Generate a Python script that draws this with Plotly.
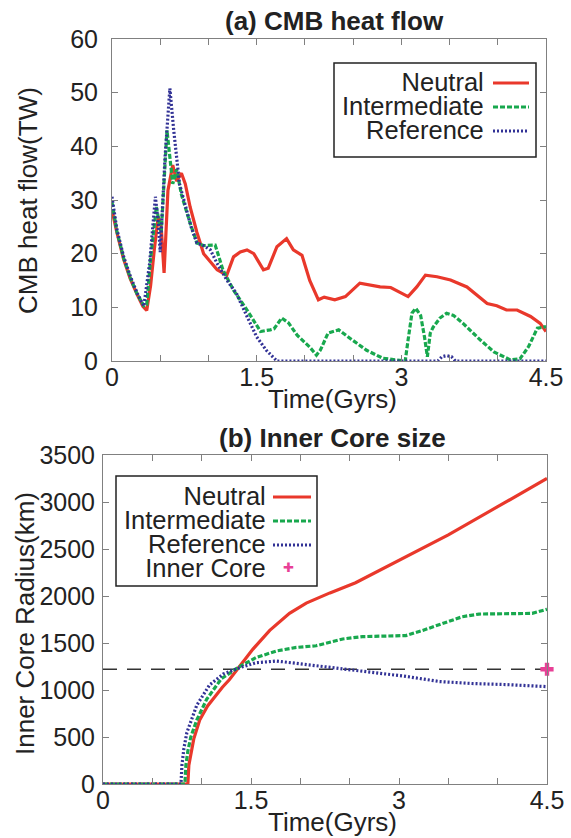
import plotly.graph_objects as go

W, H = 571, 838

# ---------------- data: (a) CMB heat flow (TW) ----------------
t_neutral_a = [0, 0.05, 0.12, 0.19, 0.26, 0.32, 0.36, 0.40, 0.44, 0.48, 0.51, 0.54, 0.58, 0.63,
               0.67, 0.72, 0.76, 0.81, 0.88, 0.95, 1.02, 1.09, 1.19, 1.26, 1.33, 1.40, 1.47, 1.57,
               1.62, 1.71, 1.81, 1.88, 1.97, 2.05, 2.14, 2.20, 2.31, 2.42, 2.57, 2.78, 2.89, 3.07,
               3.16, 3.25, 3.37, 3.51, 3.68, 3.89, 3.99, 4.09, 4.20, 4.34, 4.44, 4.50]
q_neutral = [28.1, 24.0, 19.0, 15.3, 12.4, 10.2, 9.4, 14.0, 21.0, 26.9, 25.0, 16.4, 31.8, 36.5,
             33.5, 35.0, 33.0, 28.7, 24.0, 20.0, 18.5, 17.0, 16.0, 19.4, 20.3, 20.7, 20.0, 17.0,
             17.3, 21.3, 22.8, 20.7, 19.7, 15.0, 11.4, 11.9, 11.4, 12.0, 14.5, 13.8, 13.7, 12.0,
             13.8, 16.0, 15.7, 15.1, 13.8, 10.7, 10.3, 9.5, 9.5, 8.3, 7.0, 5.5]

t_inter_a = [0, 0.05, 0.12, 0.19, 0.26, 0.33, 0.36, 0.40, 0.46, 0.51, 0.57, 0.63, 0.67, 0.72,
             0.81, 0.88, 0.95, 1.02, 1.07, 1.15, 1.26, 1.40, 1.54, 1.64, 1.68, 1.76, 1.83, 1.92,
             2.05, 2.12, 2.16, 2.24, 2.35, 2.47, 2.64, 2.81, 3.04, 3.07, 3.11, 3.15, 3.20, 3.24,
             3.27, 3.30, 3.33, 3.40, 3.47, 3.54, 3.64, 3.82, 3.96, 4.13, 4.23, 4.32, 4.41, 4.50]
q_inter = [29.6, 24.2, 19.2, 15.5, 12.5, 10.3, 10.5, 19.0, 28.7, 23.8, 43.0, 33.0, 35.7, 31.0,
           25.7, 22.0, 21.5, 21.5, 21.6, 17.0, 13.2, 9.5, 5.5, 5.8, 6.0, 8.0, 7.1, 4.8,
           2.6, 1.1, 2.0, 5.2, 5.8, 4.2, 2.0, 0.5, 0.0, 3.9, 8.9, 9.8, 8.5, 4.5,
           0.8, 5.2, 6.3, 8.0, 8.9, 8.5, 7.0, 3.9, 1.7, 0.2, 0.4, 2.7, 6.1, 6.4]

t_ref_a = [0, 0.05, 0.12, 0.19, 0.26, 0.33, 0.39, 0.45, 0.48, 0.50, 0.55, 0.60, 0.64, 0.70,
           0.76, 0.82, 0.88, 0.95, 1.02, 1.09, 1.19, 1.29, 1.40, 1.50, 1.60, 1.71, 3.38, 3.42,
           3.47, 3.52, 3.56, 4.50]
q_ref = [30.6, 24.6, 19.5, 15.8, 12.7, 10.2, 18.2, 30.6, 25.7, 20.3, 38.0, 50.8, 43.0, 33.0,
         29.0, 25.0, 22.0, 21.5, 20.7, 18.2, 15.1, 12.6, 8.3, 4.5, 2.0, 0.0, 0.0, 0.8,
         1.0, 0.8, 0.0, 0.0]

# ---------------- data: (b) Inner core radius (km) ----------------
t_neutral_b = [0, 0.86, 0.87, 0.89, 0.92, 0.98, 1.06, 1.12, 1.21, 1.28, 1.40, 1.52, 1.69, 1.89,
               2.06, 2.30, 2.56, 3.00, 3.50, 4.00, 4.50]
r_neutral = [0, 0, 200, 330, 480, 680, 830, 910, 1030, 1109, 1272, 1435, 1634, 1815,
             1924, 2033, 2141, 2380, 2650, 2950, 3250]

t_inter_b = [0, 0.83, 0.84, 0.86, 0.89, 0.95, 1.05, 1.20, 1.37, 1.55, 1.76, 1.96, 2.16, 2.43,
             2.63, 3.07, 3.24, 3.44, 3.64, 3.81, 4.08, 4.35, 4.50]
r_inter = [0, 0, 200, 350, 500, 680, 900, 1120, 1240, 1344, 1416, 1453, 1471, 1543,
           1568, 1579, 1634, 1707, 1779, 1808, 1808, 1815, 1859]

t_ref_b = [0, 0.79, 0.80, 0.82, 0.85, 0.90, 0.95, 1.08, 1.22, 1.39, 1.55, 1.76, 2.06, 2.56,
           3.07, 3.41, 3.74, 4.08, 4.50]
r_ref = [0, 0, 200, 380, 547, 700, 837, 1054, 1171, 1239, 1290, 1308, 1272, 1207,
         1145, 1090, 1069, 1058, 1036]

inner_core_now = 1221
t_now = 4.5
t_span = [0, 4.5]

series_names = ["Neutral", "Intermediate", "Reference"]
inner_core_name = "Inner Core"
x_tickvals = [0, 0.5, 1, 1.5, 2, 2.5, 3, 3.5, 4, 4.5]
x_ticktext = ["0", "", "", "1.5", "", "", "3", "", "", "4.5"]
ya_ticks = [0, 10, 20, 30, 40, 50, 60]
yb_ticks = [0, 500, 1000, 1500, 2000, 2500, 3000, 3500]

# ---------------- style ----------------
RED = 'rgb(233,56,43)'
GREEN = 'rgb(24,168,78)'
BLUE = 'rgb(50,50,150)'
PINK = 'rgb(232,64,150)'
AXC = '#808080'
TXT = '#222222'
FONT = 'Liberation Sans, Arial, Helvetica, sans-serif'

def fx(p):
    return p / W

def fy(p):
    return 1 - p / H

styles = [dict(color=RED, width=3.2),
          dict(color=GREEN, width=3.2, dash='5px,2px'),
          dict(color=BLUE, width=3.2, dash='2px,2px')]

fig = go.Figure()
for (tx, vy), st in zip([(t_neutral_a, q_neutral), (t_inter_a, q_inter), (t_ref_a, q_ref)], styles):
    fig.add_trace(go.Scatter(x=tx, y=vy, mode='lines', line=st, xaxis='x', yaxis='y',
                             showlegend=False, hoverinfo='skip'))

fig.add_trace(go.Scatter(x=t_span, y=[inner_core_now, inner_core_now], mode='lines',
                         line=dict(color='#333333', width=1.5, dash='14px,10px'),
                         xaxis='x2', yaxis='y2', showlegend=False, hoverinfo='skip'))
for (tx, vy), st in zip([(t_neutral_b, r_neutral), (t_inter_b, r_inter), (t_ref_b, r_ref)], styles):
    fig.add_trace(go.Scatter(x=tx, y=vy, mode='lines', line=st, xaxis='x2', yaxis='y2',
                             showlegend=False, hoverinfo='skip'))
fig.add_trace(go.Scatter(x=[t_now], y=[inner_core_now], mode='markers',
                         marker=dict(symbol='cross', size=11, color=PINK, line=dict(width=0)),
                         xaxis='x2', yaxis='y2', cliponaxis=False, showlegend=False, hoverinfo='skip'))

tickfont = dict(family=FONT, size=25, color=TXT)

def xax(dom, anchor):
    return dict(domain=dom, anchor=anchor, range=[0, 4.5], tickvals=x_tickvals, ticktext=x_ticktext,
                ticks='inside', ticklen=6, tickcolor=AXC, showline=True, linecolor=AXC, linewidth=1,
                mirror='ticks', showgrid=False, zeroline=False, tickfont=tickfont,
                ticklabelstandoff=-6, automargin=False)

def yax(dom, anchor, rng, ticks, standoff):
    return dict(domain=dom, anchor=anchor, range=rng, tickvals=ticks,
                ticks='inside', ticklen=6, tickcolor=AXC, showline=True, linecolor=AXC, linewidth=1,
                mirror='ticks', showgrid=False, zeroline=False, tickfont=tickfont,
                ticklabelstandoff=standoff, automargin=False)

fig.update_layout(
    width=W, height=H, autosize=False,
    margin=dict(l=0, r=0, t=0, b=0),
    paper_bgcolor='white', plot_bgcolor='white',
    font=dict(family=FONT, color=TXT),
    xaxis=xax([fx(112), fx(546)], 'y'),
    yaxis=yax([fy(361), fy(39)], 'x', [0, 60], ya_ticks, 8),
    xaxis2=xax([fx(103), fx(547)], 'y2'),
    yaxis2=yax([fy(784), fy(455)], 'x2', [0, 3500], yb_ticks, 2),
)

ann = []
shapes = []
def text(s, x, y, size, **kw):
    d = dict(text=s, x=fx(x), y=fy(y), xref='paper', yref='paper', showarrow=False,
             xanchor='center', yanchor='middle', font=dict(family=FONT, size=size, color=TXT))
    d.update(kw)
    ann.append(d)

text('<b>(a) CMB heat flow</b>', 334, 21, 26)
text('<b>(b) Inner Core size</b>', 332, 438, 26)
text('Time(Gyrs)', 332, 399, 26)
text('Time(Gyrs)', 332, 822, 26)
text('CMB heat flow(TW)', 28, 201, 26, textangle=-90)
text('Inner Core Radius(km)', 25, 624, 26, textangle=-90)

def legend_block(names, x_right, y_center):
    # one right-aligned multi-line text; small base font sets the tight row pitch (~24px)
    body = '<br>'.join('<span style="font-size:25.5px">%s</span>' % n for n in names)
    ann.append(dict(text=body, x=fx(x_right), y=fy(y_center), xref='paper', yref='paper',
                    showarrow=False, xanchor='right', yanchor='middle', align='right',
                    font=dict(family=FONT, size=18.4, color=TXT)))

# legend (a)
shapes.append(dict(type='rect', xref='paper', yref='paper', x0=fx(334), x1=fx(536), y0=fy(63), y1=fy(157),
                   line=dict(color='#222', width=1.5), fillcolor='white', layer='above'))
legend_block(series_names, 486, 106)
for yc, st in zip([82, 106, 130], styles):
    shapes.append(dict(type='line', xref='paper', yref='paper', x0=fx(493), x1=fx(529), y0=fy(yc + 1),
                       y1=fy(yc + 1), line=st, layer='above'))
# legend (b)
shapes.append(dict(type='rect', xref='paper', yref='paper', x0=fx(116), x1=fx(317), y0=fy(476), y1=fy(586),
                   line=dict(color='#222', width=1.5), fillcolor='white', layer='above'))
legend_block(series_names + [inner_core_name], 268, 531.5)
for yc, st in zip([496, 520, 544], styles):
    shapes.append(dict(type='line', xref='paper', yref='paper', x0=fx(273), x1=fx(311), y0=fy(yc + 1),
                       y1=fy(yc + 1), line=st, layer='above'))
ann.append(dict(text='✚', x=fx(288), y=fy(567), xref='paper', yref='paper', xanchor='center',
                yanchor='middle', showarrow=False, font=dict(family='DejaVu Sans', size=13, color=PINK)))

fig.update_layout(annotations=ann, shapes=shapes)
fig.write_html("out.html")
